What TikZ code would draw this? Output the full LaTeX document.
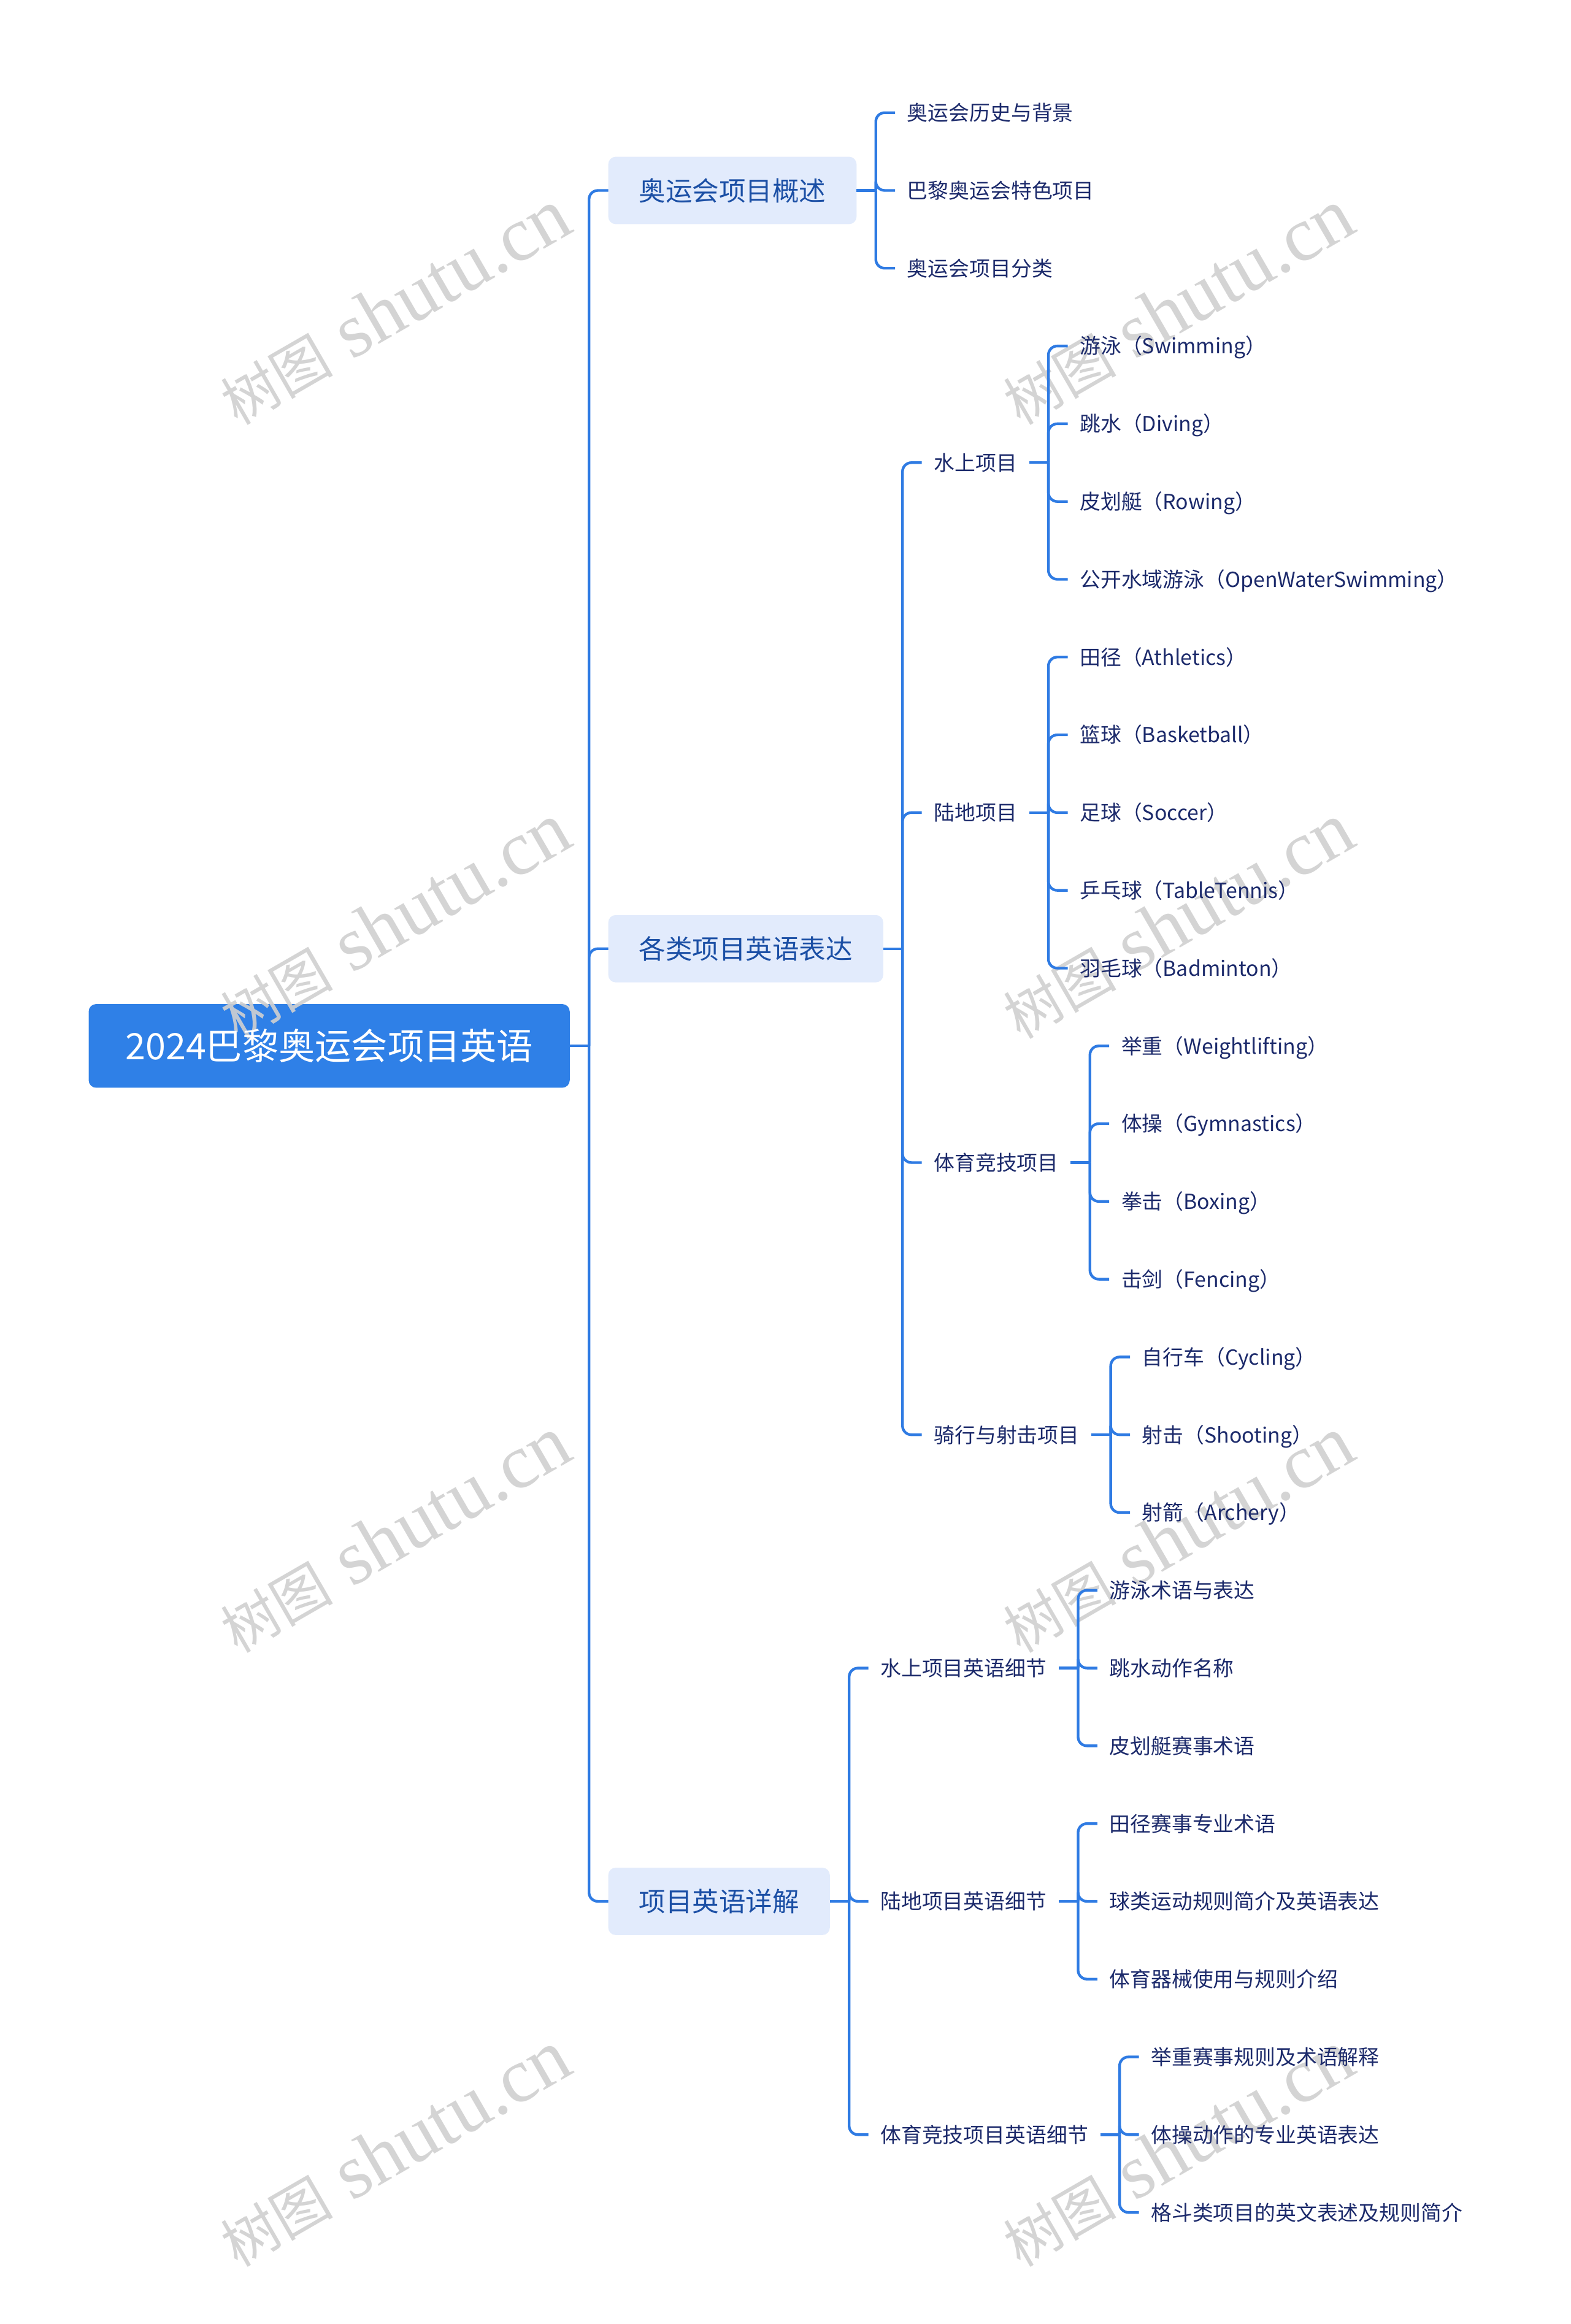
\documentclass[tikz,border=0pt]{standalone}
\usepackage{fontspec}
\setmainfont{Noto Sans CJK SC}
\newfontfamily\wmcjk{Noto Sans CJK SC}
\newfontfamily\wmlat{Liberation Serif}
\definecolor{lineblue}{HTML}{2F7BE3}
\definecolor{rootblue}{HTML}{2F80E7}
\definecolor{lvlfill}{HTML}{E2EBFC}
\definecolor{lvltext}{HTML}{1B4FA5}
\definecolor{leaftext}{HTML}{1C2A6B}
\definecolor{wmgray}{HTML}{D0D0D0}
\pgfdeclarelayer{boxes}
\pgfdeclarelayer{wmlayer}
\pgfsetlayers{boxes,wmlayer,main}
\tikzset{
 conn/.style={draw=lineblue, line width=1.8pt},
 rootbox/.style={text=white, minimum width=324pt, minimum height=56pt, inner sep=0pt, text height=21.56pt, text depth=2.94pt, font=\fontsize{24.5}{28}\selectfont},
 topicbox/.style={text=lvltext, minimum height=45pt, inner xsep=20.5pt, inner ysep=0pt, text height=15.84pt, text depth=2.16pt, font=\fontsize{18}{20}\selectfont},
 leaf/.style={text=leaftext, inner xsep=8pt, inner ysep=0pt, text height=12.32pt, text depth=1.68pt, font=\fontsize{14}{16}\selectfont},
 wm/.style={text=wmgray, opacity=0.9, inner sep=0pt}
}
% #1 style, #2 name, #3 parent, #4 y, #5 text
\newcommand\mmkid[5]{%
 \path ([xshift=26pt]#3.east) coordinate (mmtmp);
 \coordinate (mmy) at (0,#4);
 \node[#1, anchor=west] (#2) at (mmtmp |- mmy) {#5};
 \draw[conn, rounded corners=6pt] ([xshift=13pt]#3.east) |- (#2.west);
}
\newcommand\mmstub[1]{\draw[conn] (#1.east) -- ([xshift=13pt]#1.east);}
\newcommand\mmfill[2]{\begin{pgfonlayer}{boxes}\fill[#2, rounded corners=5pt] (#1.south west) rectangle (#1.north east);\end{pgfonlayer}}
\newcommand\mmwm[2]{\node[wm, rotate=30, anchor=base west] at (#1,#2) {{\wmcjk\fontsize{38}{38}\selectfont 树图}{\wmlat\fontsize{52}{52}\selectfont\ shutu.cn}};}
\begin{document}
\begin{tikzpicture}[x=1pt, y=-1pt]
\begin{pgfonlayer}{boxes}
\fill[white] (0,0) rectangle (1059,1567.4);
\end{pgfonlayer}
\useasboundingbox (0,0) rectangle (1059,1567.4);

\node[rootbox] (root) at (222,705.4) {2024巴黎奥运会项目英语};
\mmfill{root}{rootblue}
\mmstub{root}
\mmkid{topicbox}{t1}{root}{128.45}{奥运会项目概述}
\mmkid{topicbox}{t2}{root}{639.84}{各类项目英语表达}
\mmkid{topicbox}{t3}{root}{1282.35}{项目英语详解}
\mmfill{t1}{lvlfill}
\mmfill{t2}{lvlfill}
\mmfill{t3}{lvlfill}

\mmstub{t1}
\mmkid{leaf}{a1}{t1}{76}{奥运会历史与背景}
\mmkid{leaf}{a2}{t1}{128.45}{巴黎奥运会特色项目}
\mmkid{leaf}{a3}{t1}{180.9}{奥运会项目分类}

\mmstub{t2}
\mmkid{leaf}{b1}{t2}{312.03}{水上项目}
\mmkid{leaf}{b2}{t2}{548.05}{陆地项目}
\mmkid{leaf}{b3}{t2}{784.08}{体育竞技项目}
\mmkid{leaf}{b4}{t2}{967.65}{骑行与射击项目}

\mmstub{b1}
\mmkid{leaf}{b1a}{b1}{233.35}{游泳（Swimming）}
\mmkid{leaf}{b1b}{b1}{285.8}{跳水（Diving）}
\mmkid{leaf}{b1c}{b1}{338.25}{皮划艇（Rowing）}
\mmkid{leaf}{b1d}{b1}{390.7}{公开水域游泳（OpenWaterSwimming）}

\mmstub{b2}
\mmkid{leaf}{b2a}{b2}{443.15}{田径（Athletics）}
\mmkid{leaf}{b2b}{b2}{495.6}{篮球（Basketball）}
\mmkid{leaf}{b2c}{b2}{548.05}{足球（Soccer）}
\mmkid{leaf}{b2d}{b2}{600.5}{乒乓球（TableTennis）}
\mmkid{leaf}{b2e}{b2}{652.95}{羽毛球（Badminton）}

\mmstub{b3}
\mmkid{leaf}{b3a}{b3}{705.4}{举重（Weightlifting）}
\mmkid{leaf}{b3b}{b3}{757.85}{体操（Gymnastics）}
\mmkid{leaf}{b3c}{b3}{810.3}{拳击（Boxing）}
\mmkid{leaf}{b3d}{b3}{862.75}{击剑（Fencing）}

\mmstub{b4}
\mmkid{leaf}{b4a}{b4}{915.2}{自行车（Cycling）}
\mmkid{leaf}{b4b}{b4}{967.65}{射击（Shooting）}
\mmkid{leaf}{b4c}{b4}{1020.1}{射箭（Archery）}

\mmstub{t3}
\mmkid{leaf}{c1}{t3}{1125}{水上项目英语细节}
\mmkid{leaf}{c2}{t3}{1282.35}{陆地项目英语细节}
\mmkid{leaf}{c3}{t3}{1439.7}{体育竞技项目英语细节}

\mmstub{c1}
\mmkid{leaf}{c1a}{c1}{1072.55}{游泳术语与表达}
\mmkid{leaf}{c1b}{c1}{1125}{跳水动作名称}
\mmkid{leaf}{c1c}{c1}{1177.45}{皮划艇赛事术语}

\mmstub{c2}
\mmkid{leaf}{c2a}{c2}{1229.9}{田径赛事专业术语}
\mmkid{leaf}{c2b}{c2}{1282.35}{球类运动规则简介及英语表达}
\mmkid{leaf}{c2c}{c2}{1334.8}{体育器械使用与规则介绍}

\mmstub{c3}
\mmkid{leaf}{c3a}{c3}{1387.25}{举重赛事规则及术语解释}
\mmkid{leaf}{c3b}{c3}{1439.7}{体操动作的专业英语表达}
\mmkid{leaf}{c3c}{c3}{1492.15}{格斗类项目的英文表述及规则简介}

% watermark
\begin{pgfonlayer}{wmlayer}
\mmwm{160}{287.5}
\mmwm{688}{287.5}
\mmwm{160}{701.5}
\mmwm{688}{701.5}
\mmwm{160}{1115.5}
\mmwm{688}{1115.5}
\mmwm{160}{1529.5}
\mmwm{688}{1529.5}
\end{pgfonlayer}
\end{tikzpicture}
\end{document}
